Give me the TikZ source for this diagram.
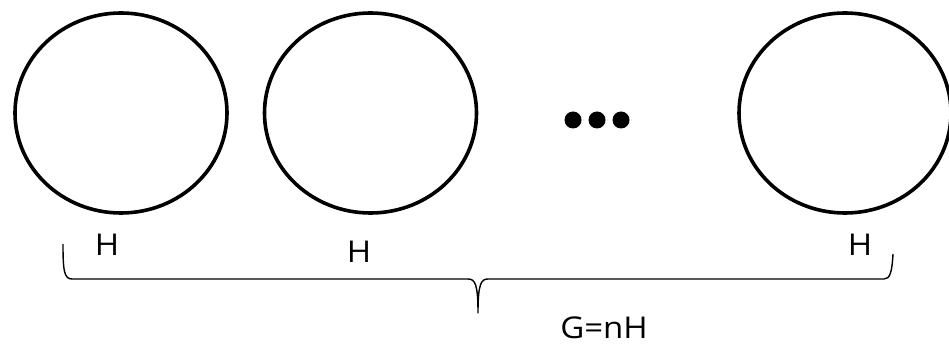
\documentclass[tikz,border=0pt]{standalone}
\usepackage{fontspec}
\setmainfont{Open Sans}[FakeStretch=1.1]
\usetikzlibrary{shapes.geometric}
\begin{document}
\begin{tikzpicture}[x=1pt,y=-1pt,
  ring/.style={draw=black, line width=3.6pt, ellipse, minimum width=212pt, minimum height=200pt, inner sep=0pt, outer sep=0pt},
  dot/.style={fill=black, circle, minimum size=17pt, inner sep=0pt},
  lbl/.style={font=\fontsize{30}{36}\selectfont, text=black, inner sep=0pt},
  bracel/.style={draw=black, line width=1.4pt, line join=round}]
\useasboundingbox (0,0) rectangle (949,344);
\clip (0,0) rectangle (949,344);
\node[ring] (c1) at (121,113) {};
\node[ring] (c2) at (370.5,113) {};
\node[ring] (c3) at (845,113) {};
\node[dot] (d1) at (573,120) {};
\node[dot] (d2) at (597,120) {};
\node[dot] (d3) at (621,120) {};
\node[lbl] (h1) at (107,245) {H};
\node[lbl] (h2) at (359,252) {H};
\node[lbl] (h3) at (860,245) {H};
\node[lbl] (g) at (604,328) {G=nH};
\coordinate (bl) at (63,244);
\coordinate (bm) at (478,313);
\coordinate (br) at (893,254);
\draw[bracel] (bl) .. controls (63,270) and (64,279) .. (72,279) -- (468,279)
  .. controls (475,279) and (478,284) .. (bm)
  .. controls (478,284) and (481,279) .. (488,279) -- (884,279)
  .. controls (890,279) and (892,272) .. (br);
\end{tikzpicture}
\end{document}
